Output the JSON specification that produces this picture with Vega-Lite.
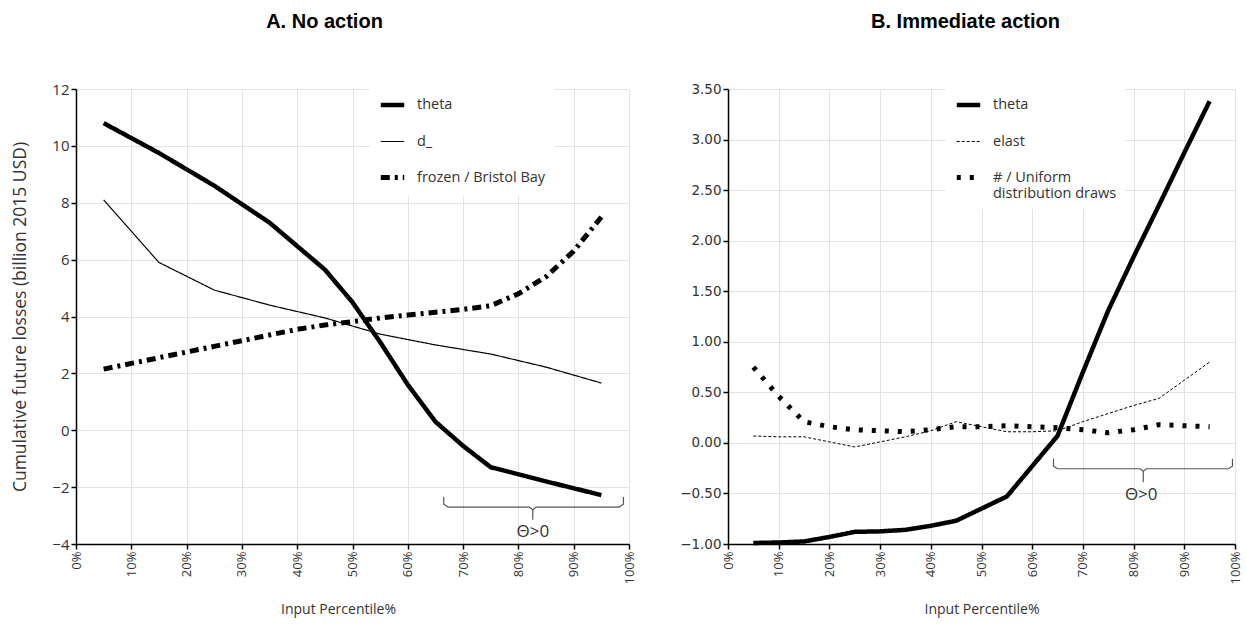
{
  "$schema": "https://vega.github.io/schema/vega-lite/v6.json",
  "background": "white",
  "padding": {"left": 11, "top": 12, "right": 5, "bottom": 5},
  "datasets": {
    "left": [
      {"p": 5, "v": 10.8, "s": "theta"}, {"p": 15, "v": 9.75, "s": "theta"}, {"p": 25, "v": 8.6, "s": "theta"}, {"p": 35, "v": 7.3, "s": "theta"}, {"p": 45, "v": 5.65, "s": "theta"}, {"p": 50, "v": 4.5, "s": "theta"}, {"p": 55, "v": 3.1, "s": "theta"}, {"p": 60, "v": 1.6, "s": "theta"}, {"p": 65, "v": 0.3, "s": "theta"}, {"p": 70, "v": -0.55, "s": "theta"}, {"p": 75, "v": -1.3, "s": "theta"}, {"p": 85, "v": -1.8, "s": "theta"}, {"p": 95, "v": -2.28, "s": "theta"},
      {"p": 5, "v": 8.1, "s": "d_"}, {"p": 15, "v": 5.9, "s": "d_"}, {"p": 25, "v": 4.93, "s": "d_"}, {"p": 35, "v": 4.4, "s": "d_"}, {"p": 45, "v": 3.95, "s": "d_"}, {"p": 55, "v": 3.38, "s": "d_"}, {"p": 65, "v": 3.0, "s": "d_"}, {"p": 75, "v": 2.68, "s": "d_"}, {"p": 85, "v": 2.22, "s": "d_"}, {"p": 95, "v": 1.66, "s": "d_"},
      {"p": 5, "v": 2.15, "s": "frozen / Bristol Bay"}, {"p": 10, "v": 2.35, "s": "frozen / Bristol Bay"}, {"p": 15, "v": 2.55, "s": "frozen / Bristol Bay"}, {"p": 20, "v": 2.75, "s": "frozen / Bristol Bay"}, {"p": 25, "v": 2.95, "s": "frozen / Bristol Bay"}, {"p": 30, "v": 3.15, "s": "frozen / Bristol Bay"}, {"p": 35, "v": 3.35, "s": "frozen / Bristol Bay"}, {"p": 40, "v": 3.55, "s": "frozen / Bristol Bay"}, {"p": 45, "v": 3.7, "s": "frozen / Bristol Bay"}, {"p": 50, "v": 3.82, "s": "frozen / Bristol Bay"}, {"p": 55, "v": 3.95, "s": "frozen / Bristol Bay"}, {"p": 60, "v": 4.05, "s": "frozen / Bristol Bay"}, {"p": 65, "v": 4.15, "s": "frozen / Bristol Bay"}, {"p": 70, "v": 4.25, "s": "frozen / Bristol Bay"}, {"p": 75, "v": 4.38, "s": "frozen / Bristol Bay"}, {"p": 80, "v": 4.8, "s": "frozen / Bristol Bay"}, {"p": 85, "v": 5.4, "s": "frozen / Bristol Bay"}, {"p": 90, "v": 6.3, "s": "frozen / Bristol Bay"}, {"p": 95, "v": 7.5, "s": "frozen / Bristol Bay"}
    ],
    "right": [
      {"p": 5, "v": -0.99, "s": "theta"}, {"p": 10, "v": -0.985, "s": "theta"}, {"p": 15, "v": -0.975, "s": "theta"}, {"p": 20, "v": -0.93, "s": "theta"}, {"p": 25, "v": -0.88, "s": "theta"}, {"p": 30, "v": -0.875, "s": "theta"}, {"p": 35, "v": -0.86, "s": "theta"}, {"p": 40, "v": -0.82, "s": "theta"}, {"p": 45, "v": -0.77, "s": "theta"}, {"p": 50, "v": -0.65, "s": "theta"}, {"p": 55, "v": -0.53, "s": "theta"}, {"p": 60, "v": -0.23, "s": "theta"}, {"p": 65, "v": 0.07, "s": "theta"}, {"p": 70, "v": 0.7, "s": "theta"}, {"p": 75, "v": 1.31, "s": "theta"}, {"p": 80, "v": 1.84, "s": "theta"}, {"p": 85, "v": 2.35, "s": "theta"}, {"p": 90, "v": 2.87, "s": "theta"}, {"p": 95, "v": 3.38, "s": "theta"},
      {"p": 5, "v": 0.068, "s": "elast"}, {"p": 10, "v": 0.06, "s": "elast"}, {"p": 15, "v": 0.06, "s": "elast"}, {"p": 20, "v": 0.01, "s": "elast"}, {"p": 25, "v": -0.04, "s": "elast"}, {"p": 30, "v": 0.01, "s": "elast"}, {"p": 35, "v": 0.06, "s": "elast"}, {"p": 40, "v": 0.12, "s": "elast"}, {"p": 45, "v": 0.21, "s": "elast"}, {"p": 50, "v": 0.16, "s": "elast"}, {"p": 55, "v": 0.11, "s": "elast"}, {"p": 60, "v": 0.11, "s": "elast"}, {"p": 65, "v": 0.12, "s": "elast"}, {"p": 70, "v": 0.21, "s": "elast"}, {"p": 75, "v": 0.29, "s": "elast"}, {"p": 80, "v": 0.37, "s": "elast"}, {"p": 85, "v": 0.44, "s": "elast"}, {"p": 90, "v": 0.62, "s": "elast"}, {"p": 95, "v": 0.8, "s": "elast"},
      {"p": 5, "v": 0.75, "s": "# / Uniform distribution draws"}, {"p": 10, "v": 0.46, "s": "# / Uniform distribution draws"}, {"p": 15, "v": 0.21, "s": "# / Uniform distribution draws"}, {"p": 20, "v": 0.16, "s": "# / Uniform distribution draws"}, {"p": 25, "v": 0.13, "s": "# / Uniform distribution draws"}, {"p": 30, "v": 0.12, "s": "# / Uniform distribution draws"}, {"p": 35, "v": 0.11, "s": "# / Uniform distribution draws"}, {"p": 40, "v": 0.13, "s": "# / Uniform distribution draws"}, {"p": 45, "v": 0.16, "s": "# / Uniform distribution draws"}, {"p": 50, "v": 0.16, "s": "# / Uniform distribution draws"}, {"p": 55, "v": 0.17, "s": "# / Uniform distribution draws"}, {"p": 60, "v": 0.16, "s": "# / Uniform distribution draws"}, {"p": 65, "v": 0.15, "s": "# / Uniform distribution draws"}, {"p": 70, "v": 0.13, "s": "# / Uniform distribution draws"}, {"p": 75, "v": 0.1, "s": "# / Uniform distribution draws"}, {"p": 80, "v": 0.13, "s": "# / Uniform distribution draws"}, {"p": 85, "v": 0.18, "s": "# / Uniform distribution draws"}, {"p": 90, "v": 0.17, "s": "# / Uniform distribution draws"}, {"p": 95, "v": 0.16, "s": "# / Uniform distribution draws"}
    ],
    "leftBracket": [
      {"i": 0, "p": 66.5, "v": -2.35}, {"i": 1, "p": 66.5, "v": -2.6}, {"i": 2, "p": 67.3, "v": -2.7}, {"i": 3, "p": 82.0, "v": -2.7}, {"i": 4, "p": 82.6, "v": -2.8}, {"i": 5, "p": 82.6, "v": -3.15}, {"i": 6, "p": 82.6, "v": -2.8}, {"i": 7, "p": 83.2, "v": -2.7}, {"i": 8, "p": 98.2, "v": -2.7}, {"i": 9, "p": 99.0, "v": -2.6}, {"i": 10, "p": 99.0, "v": -2.35}
    ],
    "rightBracket": [
      {"i": 0, "p": 64.2, "v": -0.157}, {"i": 1, "p": 64.2, "v": -0.23}, {"i": 2, "p": 65.0, "v": -0.256}, {"i": 3, "p": 81.3, "v": -0.256}, {"i": 4, "p": 81.9, "v": -0.28}, {"i": 5, "p": 81.9, "v": -0.39}, {"i": 6, "p": 81.9, "v": -0.28}, {"i": 7, "p": 82.5, "v": -0.256}, {"i": 8, "p": 98.7, "v": -0.256}, {"i": 9, "p": 99.5, "v": -0.23}, {"i": 10, "p": 99.5, "v": -0.157}
    ],
    "leftLabel": [{"p": 82.6, "v": -3.58, "t": "Θ>0"}],
    "rightLabel": [{"p": 81.5, "v": -0.52, "t": "Θ>0"}]
  },
  "config": {
    "view": {"stroke": null},
    "axis": {
      "gridColor": "#e3e3e3", "domainColor": "black", "tickColor": "black", "domainWidth": 1.5, "tickWidth": 1.5, "tickSize": 5,
      "labelColor": "#333", "titleColor": "#333", "labelFont": "Open Sans", "titleFont": "Open Sans", "titleFontWeight": "normal", "labelFontSize": 13, "titleFontSize": 14
    },
    "legend": {
      "orient": "none", "fillColor": "white", "padding": 8, "symbolType": "stroke", "symbolSize": 550, "symbolStrokeColor": "black",
      "labelFont": "Open Sans", "labelFontSize": 14.5, "labelColor": "#333", "rowPadding": 15, "labelOffset": 10, "title": null
    },
    "title": {"font": "Liberation Sans", "fontSize": 20, "fontWeight": "bold", "color": "black", "anchor": "middle"}
  },
  "bounds": "flush",
  "spacing": 99,
  "resolve": {
    "scale": {"strokeDash": "independent", "strokeWidth": "independent", "x": "independent", "y": "independent"},
    "legend": {"strokeDash": "independent", "strokeWidth": "independent"}
  },
  "hconcat": [
    {
      "width": 553, "height": 455,
      "title": {"text": "A. No action", "offset": 50, "dx": -28},
      "encoding": {
        "x": {"field": "p", "type": "quantitative", "title": "Input Percentile%",
          "scale": {"domain": [0, 100], "nice": false},
          "axis": {"values": [0, 10, 20, 30, 40, 50, 60, 70, 80, 90, 100], "labelExpr": "datum.value + '%'", "labelAngle": 270, "titlePadding": 18, "titleFontSize": 14, "titleX": 262}},
        "y": {"field": "v", "type": "quantitative", "title": "Cumulative future losses (billion 2015 USD)",
          "scale": {"domain": [-4, 12], "nice": false, "zero": false},
          "axis": {"values": [-4, -2, 0, 2, 4, 6, 8, 10, 12], "labelFontSize": 15, "titleFontSize": 17.5, "titlePadding": 22}}
      },
      "layer": [
        {
          "data": {"name": "left"},
          "mark": {"type": "line", "color": "black", "strokeCap": "butt"},
          "encoding": {
            "strokeDash": {"field": "s", "type": "nominal",
              "scale": {"domain": ["theta", "d_", "frozen / Bristol Bay"], "range": [[1, 0], [1, 0], [9, 5, 3, 5]]},
              "legend": {"legendX": 294, "legendY": -6}},
            "strokeWidth": {"field": "s", "type": "nominal",
              "scale": {"type": "ordinal", "domain": ["theta", "d_", "frozen / Bristol Bay"], "range": [4.5, 1.2, 5]},
              "legend": {"legendX": 294, "legendY": -6}}
          }
        },
        {
          "data": {"name": "leftBracket"},
          "mark": {"type": "line", "color": "#555", "strokeWidth": 1.2},
          "encoding": {"order": {"field": "i", "type": "quantitative"}}
        },
        {
          "data": {"name": "leftLabel"},
          "mark": {"type": "text", "font": "Open Sans", "fontSize": 17, "color": "#333"},
          "encoding": {"text": {"field": "t", "type": "nominal"}}
        }
      ]
    },
    {
      "width": 507, "height": 455,
      "title": {"text": "B. Immediate action", "offset": 50, "dx": -16},
      "encoding": {
        "x": {"field": "p", "type": "quantitative", "title": "Input Percentile%",
          "scale": {"domain": [0, 100], "nice": false},
          "axis": {"values": [0, 10, 20, 30, 40, 50, 60, 70, 80, 90, 100], "labelExpr": "datum.value + '%'", "labelAngle": 270, "titlePadding": 18, "titleFontSize": 14}},
        "y": {"field": "v", "type": "quantitative", "title": null,
          "scale": {"domain": [-1, 3.5], "nice": false, "zero": false},
          "axis": {"values": [-1, -0.5, 0, 0.5, 1, 1.5, 2, 2.5, 3, 3.5], "format": ".2f", "labelFont": "DejaVu Sans", "labelFontSize": 13.5}}
      },
      "layer": [
        {
          "data": {"name": "right"},
          "mark": {"type": "line", "color": "black", "strokeCap": "butt"},
          "encoding": {
            "strokeDash": {"field": "s", "type": "nominal",
              "scale": {"domain": ["theta", "elast", "# / Uniform distribution draws"], "range": [[1, 0], [3, 2], [4, 9]]},
              "legend": {"legendX": 218, "legendY": -6, "labelExpr": "datum.label == '# / Uniform distribution draws' ? ['# / Uniform', 'distribution draws'] : datum.label"}},
            "strokeWidth": {"field": "s", "type": "nominal",
              "scale": {"type": "ordinal", "domain": ["theta", "elast", "# / Uniform distribution draws"], "range": [4.5, 1, 5]},
              "legend": {"legendX": 218, "legendY": -6, "labelExpr": "datum.label == '# / Uniform distribution draws' ? ['# / Uniform', 'distribution draws'] : datum.label"}}
          }
        },
        {
          "data": {"name": "rightBracket"},
          "mark": {"type": "line", "color": "#555", "strokeWidth": 1.2},
          "encoding": {"order": {"field": "i", "type": "quantitative"}}
        },
        {
          "data": {"name": "rightLabel"},
          "mark": {"type": "text", "font": "Open Sans", "fontSize": 17, "color": "#333"},
          "encoding": {"text": {"field": "t", "type": "nominal"}}
        }
      ]
    }
  ]
}
